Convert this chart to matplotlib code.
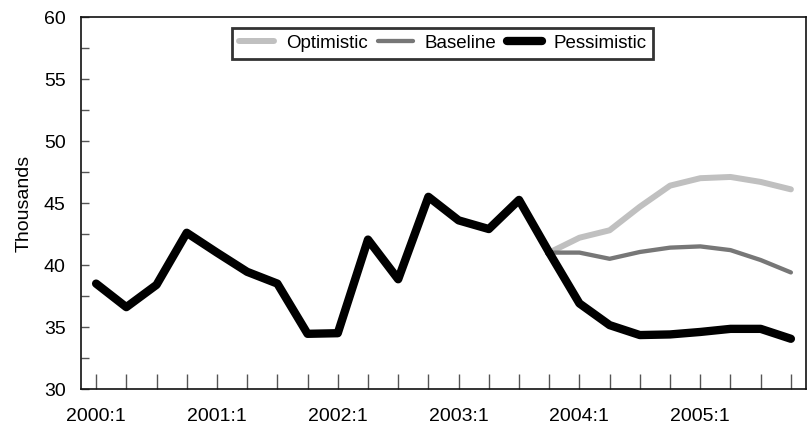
import matplotlib
matplotlib.use("Agg")
import matplotlib.pyplot as plt
import numpy as np

quarters = [f"{y}:{q}" for y in range(2000, 2006) for q in range(1, 5)]
history = [38.5, 36.6, 38.4, 42.6, 41.0, 39.45, 38.5, 34.45, 34.5, 42.05,
           38.85, 45.5, 43.6, 42.9, 45.25, 41.0]
optimistic = [41.0, 42.2, 42.8, 44.7, 46.4, 47.0, 47.1, 46.7, 46.1]
baseline = [41.0, 41.0, 40.5, 41.05, 41.4, 41.5, 41.2, 40.4, 39.4]
pessimistic = [41.0, 36.9, 35.15, 34.35, 34.4, 34.6, 34.85, 34.85, 34.05]
year_labels = ["2000:1", "2001:1", "2002:1", "2003:1", "2004:1", "2005:1"]

plt.rcParams['font.family'] = ['Liberation Sans', 'DejaVu Sans']

fig = plt.figure(figsize=(8.09, 4.30), dpi=100)
ax = fig.add_axes([81/809, 1 - 389/430, (806-81)/809, (389-17)/430])

x_hist = np.arange(len(history))
x_fc = np.arange(len(history) - 1, len(history) - 1 + len(optimistic))

ax.plot(x_fc, optimistic, color="#c0c0c0", lw=4.3, solid_capstyle="round",
        solid_joinstyle="round", label="Optimistic", zorder=2)
ax.plot(x_fc, baseline, color="#777777", lw=3.1, solid_capstyle="round",
        solid_joinstyle="round", label="Baseline", zorder=3)
ax.plot(x_fc, pessimistic, color="black", lw=6, solid_capstyle="round",
        solid_joinstyle="round", label="Pessimistic", zorder=4)
ax.plot(x_hist, history, color="black", lw=6, solid_capstyle="round",
        solid_joinstyle="round", zorder=4)

ax.set_xlim(-0.5, len(quarters) - 0.5)
ax.set_ylim(30, 60)
ax.set_xticks(np.arange(0, len(quarters), 4))
ax.set_xticklabels(year_labels)
ax.set_xticks(np.arange(len(quarters)), minor=True)
ax.set_yticks(np.arange(30, 61, 5))
ax.set_yticks(np.arange(30, 61, 2.5), minor=True)

ax.tick_params(axis="x", which="both", direction="in", length=11, width=1,
               color="#555555", labelsize=14, pad=14)
ax.tick_params(axis="y", which="both", direction="in", length=6, width=1,
               color="#555555", labelsize=14, pad=11)
for s in ax.spines.values():
    s.set_linewidth(1.2)
    s.set_color("#111111")

ax.set_ylabel("Thousands", fontsize=14, labelpad=8)

leg = ax.legend(loc="upper center", ncol=3, fontsize=13.5, frameon=True,
                fancybox=False, handlelength=1.9, handletextpad=0.6,
                columnspacing=0.55, borderpad=0.35, borderaxespad=0.6,
                bbox_to_anchor=(0.499, 1.0))
leg.get_frame().set_edgecolor("black")
leg.get_frame().set_linewidth(2)
for h in leg.get_lines():
    h.set_solid_capstyle("round")

fig.savefig("out.png", dpi=100)
